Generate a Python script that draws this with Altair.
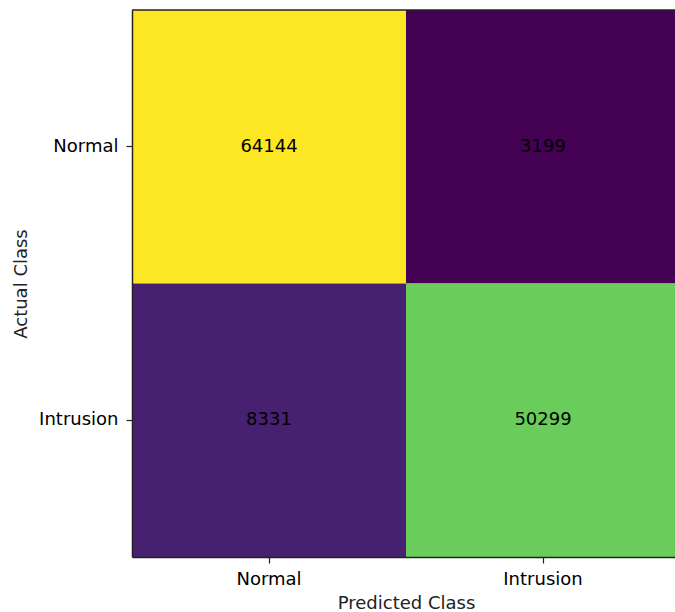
import altair as alt
import pandas as pd

# Confusion matrix of the intrusion-detection classifier
classes = ["Normal", "Intrusion"]
actual = ["Normal", "Normal", "Intrusion", "Intrusion"]
predicted = ["Normal", "Intrusion", "Normal", "Intrusion"]
counts = [64144, 3199, 8331, 50299]

df = pd.DataFrame({"Actual": actual, "Predicted": predicted, "Count": counts})

FONT = "DejaVu Sans"
FRAME = "#222222"
SIDE = 548  # side of the square matrix in pixels

x_enc = alt.X(
    "Predicted:N",
    sort=classes,
    title="Predicted Class",
    scale=alt.Scale(paddingInner=0, paddingOuter=0, range=[0, SIDE]),
    axis=alt.Axis(labelAngle=0, domain=True, tickSize=6,
                  labelPadding=7, titlePadding=6),
)
y_enc = alt.Y(
    "Actual:N",
    sort=classes,
    title="Actual Class",
    scale=alt.Scale(paddingInner=0, paddingOuter=0),
    axis=alt.Axis(domain=True, tickSize=6, labelPadding=8, titlePadding=8),
)

cells = alt.Chart(df).mark_rect().encode(
    x=x_enc,
    y=y_enc,
    color=alt.Color(
        "Count:Q",
        scale=alt.Scale(scheme="viridis", domain=[min(counts), max(counts)]),
        legend=None,
    ),
)

labels = alt.Chart(df).mark_text(font=FONT, fontSize=18, color="black").encode(
    x=alt.X("Predicted:N", sort=classes),
    y=alt.Y("Actual:N", sort=classes),
    text=alt.Text("Count:Q", format="d"),
)

# top edge of the frame (left and bottom edges are the axis domains)
top_edge = alt.Chart(pd.DataFrame({"edge": [0]})).mark_rule(
    color=FRAME, strokeWidth=1.5
).encode(x=alt.value(0), x2=alt.value(SIDE), y=alt.value(0))

chart = (
    alt.layer(cells, labels, top_edge)
    .properties(
        width=543,
        height=547,
        autosize=alt.AutoSizeParams(type="none"),
        padding={"left": 132, "top": 10, "right": 0, "bottom": 55},
    )
    .configure_view(stroke=None)
    .configure_axis(
        labelFont=FONT, titleFont=FONT, labelFontSize=18, titleFontSize=18,
        labelColor="black", titleColor=FRAME, titleFontWeight="normal",
        domainColor=FRAME, domainWidth=1.5, tickColor=FRAME, tickWidth=1.2,
    )
)

chart.save("out.html", embed_options={"renderer": "svg", "actions": False})
